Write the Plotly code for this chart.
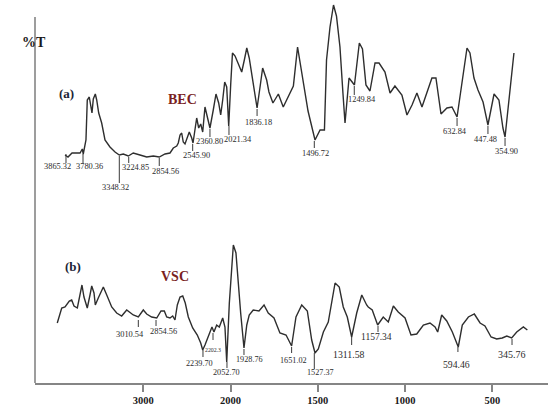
import numpy as np
import plotly.graph_objects as go

# ---------------- data ----------------
# (a) BEC spectrum: wavenumber (1/cm) and transmittance (arbitrary %T units)
bec_wn = [3897, 3863, 3817, 3725, 3699, 3688, 3657, 3642, 3619, 3603,
          3588, 3573, 3550, 3534, 3511, 3477, 3439, 3382, 3324, 3275,
          3229, 3172, 3115, 3038, 2961, 2885, 2817, 2751, 2694, 2656,
          2617, 2599, 2579, 2560, 2542, 2522, 2503, 2473, 2445, 2430,
          2388, 2365, 2342, 2319, 2293, 2266, 2236, 2198, 2167, 2136,
          2113, 2090, 2067, 2044, 2021, 1999, 1989, 1974, 1956, 1936,
          1921, 1907, 1893, 1873, 1860, 1848, 1831, 1816, 1793, 1780,
          1757, 1726, 1698, 1669, 1640, 1616, 1585, 1556, 1516, 1487,
          1462, 1450, 1430, 1410, 1393, 1373, 1356, 1344, 1321, 1290,
          1262, 1244, 1224, 1201, 1172, 1149, 1115, 1086, 1058, 1018,
          989, 960, 932, 903, 846, 823, 794, 760, 731, 702,
          674, 645, 628, 605, 582, 553, 525, 490, 462, 439,
          427, 399, 376]
bec_t = [228, 226, 230, 230, 234, 229, 243, 283, 286, 276,
         270, 284, 289, 283, 270, 260, 243, 236, 231, 228,
         229, 227, 230, 228, 226, 227, 226, 229, 230, 235,
         237, 240, 248, 250, 241, 239, 243, 251, 245, 240,
         265, 255, 259, 251, 276, 266, 255, 273, 289, 280,
         268, 283, 301, 296, 257, 299, 330, 327, 320, 311,
         323, 335, 325, 303, 288, 275, 296, 315, 303, 291,
         280, 289, 276, 286, 297, 336, 303, 272, 243, 253,
         253, 323, 356, 378, 367, 336, 290, 260, 305, 298,
         340, 334, 298, 292, 320, 320, 311, 290, 297, 288,
         268, 278, 290, 276, 305, 305, 269, 275, 276, 266,
         300, 335, 330, 305, 293, 281, 258, 289, 283, 255,
         246, 295, 330]

# (b) VSC spectrum
vsc_wn = [3986, 3955, 3935, 3897, 3848, 3821, 3794, 3756, 3725, 3703,
          3680, 3642, 3611, 3591, 3565, 3550, 3516, 3477, 3458, 3419,
          3362, 3305, 3248, 3190, 3115, 3057, 3000, 2961, 2904, 2846,
          2797, 2759, 2732, 2694, 2663, 2637, 2610, 2579, 2548, 2519,
          2484, 2434, 2381, 2342, 2319, 2293, 2244, 2213, 2190, 2159,
          2129, 2090, 2064, 2044, 2014, 1993, 1984, 1969, 1956, 1942,
          1923, 1907, 1893, 1870, 1837, 1808, 1784, 1751, 1717, 1682,
          1650, 1625, 1592, 1560, 1535, 1516, 1497, 1468, 1440, 1401,
          1377, 1354, 1331, 1306, 1277, 1248, 1220, 1211, 1188, 1157,
          1125, 1096, 1067, 1039, 1000, 966, 933, 895, 857, 828,
          813, 790, 761, 729, 695, 672, 637, 603, 570, 542,
          507, 475, 443, 417, 389, 360, 322, 299]
vsc_t = [60, 70, 75, 76, 82, 83, 77, 75, 90, 98,
         86, 75, 88, 97, 90, 78, 85, 93, 96, 88,
         76, 70, 67, 73, 68, 66, 73, 69, 66, 65,
         72, 72, 66, 65, 67, 63, 78, 86, 87, 80,
         66, 55, 48, 40, 33, 38, 48, 56, 51, 58,
         56, 65, 56, 21, 80, 120, 138, 130, 100, 70,
         35, 58, 68, 73, 72, 78, 70, 65, 50, 48,
         37, 66, 78, 72, 43, 30, 34, 51, 61, 100,
         96, 76, 66, 46, 70, 88, 78, 76, 73, 58,
         66, 61, 77, 71, 65, 48, 49, 58, 60, 56,
         51, 68, 62, 51, 36, 58, 66, 69, 60, 57,
         46, 44, 45, 47, 45, 51, 56, 53]

# peak labels (a)
bec_labels = ["3865.32", "3780.36", "3348.32", "3224.85", "2854.56", "2545.90", "2360.80",
              "2021.34", "1836.18", "1496.72", "1249.84", "632.84", "447.48", "354.90"]
bec_label_wn = [3886, 3691, 3275, 3167, 2817, 2434, 2236, 2018, 1848, 1520, 1291, 702, 525, 427]
bec_label_t = [229, 229, 227, 226, 225, 239, 254, 257, 274, 242, 297, 265, 257, 245]

# peak labels (b)
vsc_labels = ["3010.54", "2854.56", "2239.70", "2202.3", "2052.70", "1928.76", "1651.02",
              "1527.37", "1311.58", "1157.34", "594.46", "345.76"]
vsc_label_wn = [3057, 2854, 2316, 2201, 2041, 1923, 1650, 1520, 1306, 1155, 697, 387]
vsc_label_t = [63, 63, 33, 50, 21, 34, 36, 30, 46, 57, 36, 44]

x_tick_labels = ["3000", "2000", "1500", "1000", "500"]
x_tick_wn = [3000, 2000, 1500, 1000, 500]

# ---------------- layout helpers (styling) ----------------
bec_tick_len = [9, 9, 27, 6, 8, 7, 8, 9, 7, 7, 9, 8, 8, 8]
bec_text_y = [216.3, 216.3, 195.3, 215.3, 212, 228, 242, 243.7, 260.7, 229.7, 283.7, 252, 243.7, 231.3]
bec_text_dx = [-8.7, 6.7, -4.3, 6.3, 6.4, 4, 0, 9.3, 1.3, 0.7, 8, -2, -2, 1.7]
bec_text_size = [8.4] * 14

vsc_tick_len = [7, 6, 7, 7, 6, 6, 6, 16, 8, 6, 5, 6]
vsc_text_y = [49, 51.3, 19.7, 33, 10.3, 23.7, 23, 10.3, 29, 46.3, 19, 28.7]
vsc_text_dx = [-8.3, 7.3, -3, 0.3, -0.3, 5.3, 1.6, 5.7, -2.7, -1.3, -1.3, -0.3]
vsc_text_size = [8.4, 8.4, 8.2, 5.8, 8.2, 8.2, 8.2, 8.2, 9.8, 9.5, 9.7, 10]


def tu(wn):
    """FTIR axis: half scale above 2000 1/cm."""
    wn = np.asarray(wn, dtype=float)
    return np.where(wn > 2000, 2000 + (wn - 2000) / 2.0, wn)


SERIF = "Liberation Serif, Times New Roman, serif"
LINE = "#2e2e2e"
AXIS = "#858585"

fig = go.Figure()
fig.add_trace(go.Scatter(x=tu(bec_wn), y=bec_t, mode="lines",
                         line=dict(color=LINE, width=1.4), hoverinfo="skip"))
fig.add_trace(go.Scatter(x=tu(vsc_wn), y=vsc_t, mode="lines",
                         line=dict(color=LINE, width=1.4), hoverinfo="skip"))

shapes = []
annotations = []


def add_labels(labels, wns, ts, lens, ty, dx, sizes):
    for lab, w, t, L, y, d, s in zip(labels, wns, ts, lens, ty, dx, sizes):
        xv = float(tu([w])[0])
        shapes.append(dict(type="line", xref="x", yref="y", x0=xv, x1=xv,
                           y0=t, y1=t - L, line=dict(color="#3a3a3a", width=1)))
        annotations.append(dict(x=xv, y=y, xref="x", yref="y", text=lab,
                                showarrow=False, xshift=d, xanchor="center",
                                yanchor="middle",
                                font=dict(family=SERIF, size=s, color="#2b2b2b")))


add_labels(bec_labels, bec_label_wn, bec_label_t, bec_tick_len, bec_text_y, bec_text_dx, bec_text_size)
add_labels(vsc_labels, vsc_label_wn, vsc_label_t, vsc_tick_len, vsc_text_y, vsc_text_dx, vsc_text_size)

# left axis line (shorter than the plot area)
shapes.append(dict(type="line", xref="paper", yref="y", x0=0, x1=0, y0=0, y1=366,
                   line=dict(color=AXIS, width=1.6)))

# series captions
annotations += [
    dict(x=0.0423, y=289.7, xref="paper", yref="y", text="<b>(a)</b>", showarrow=False,
         font=dict(family=SERIF, size=13, color="#1c2436")),
    dict(x=0.2548, y=284, xref="paper", yref="y", text="<b>BEC</b>", showarrow=False,
         font=dict(family=SERIF, size=14, color="#7a1f1f")),
    dict(x=0.0552, y=117, xref="paper", yref="y", text="<b>(b)</b>", showarrow=False,
         font=dict(family=SERIF, size=13, color="#1c2436")),
    dict(x=0.2423, y=106.3, xref="paper", yref="y", text="<b>VSC</b>", showarrow=False,
         font=dict(family=SERIF, size=14, color="#7a1f1f")),
    dict(x=-0.029, y=341, xref="paper", yref="y", text="<b>%T</b>", showarrow=False,
         font=dict(family=SERIF, size=14, color="#1a1a1a")),
    dict(x=0.9688, y=-19, xref="paper", yref="y", text="<b>1/cm</b>", showarrow=False,
         font=dict(family=SERIF, size=14, color="#1a1a1a")),
]

fig.update_layout(
    width=548, height=411,
    margin=dict(l=35, r=0, t=2, b=28),
    paper_bgcolor="white", plot_bgcolor="white",
    showlegend=False,
    shapes=shapes, annotations=annotations,
    xaxis=dict(range=[3120.6, 180.8], showgrid=False, zeroline=False,
               showline=True, linecolor=AXIS, linewidth=1.6,
               ticks="outside", ticklen=7, tickwidth=1.5, tickcolor=AXIS,
               tickvals=list(tu(x_tick_wn)),
               ticktext=["<b>%s</b>" % t for t in x_tick_labels],
               tickfont=dict(family=SERIF, size=10.5, color="#1a1a1a")),
    yaxis=dict(range=[0, 381], visible=False, showgrid=False, zeroline=False),
)

fig.write_html("out.html")
